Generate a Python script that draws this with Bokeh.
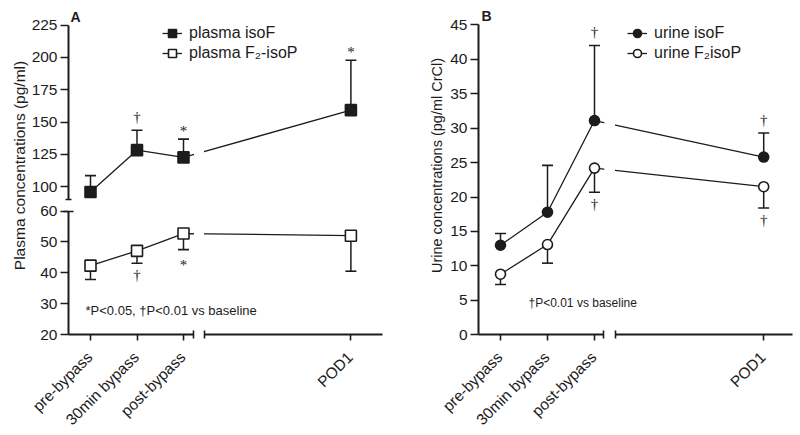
import math
from bokeh.plotting import figure
from bokeh.models import (ColumnDataSource, Range1d, LinearAxis, FixedTicker, Whisker, TeeHead,
                          BoxAnnotation, Label, LabelSet, Legend, LegendItem)
from bokeh.layouts import row
from bokeh.embed import file_html
from bokeh.resources import INLINE
from bokeh.core.properties import value

# ---------------- data ----------------
time_points = ["pre-bypass", "30min bypass", "post-bypass", "POD1"]

plasma_isoF = [96.0, 128.3, 122.7, 159.2]
plasma_isoF_sem = [12.6, 15.4, 14.1, 38.6]
plasma_isoF_sig = ["", "\u2020", "*", "*"]

plasma_F2 = [42.3, 47.1, 52.7, 52.0]
plasma_F2_sem = [4.5, 4.0, 5.2, 11.5]
plasma_F2_sig = ["", "\u2020", "*", ""]

urine_isoF = [13.0, 17.8, 31.1, 25.8]
urine_isoF_sem = [1.7, 6.8, 10.9, 3.5]
urine_isoF_sig = ["", "", "\u2020", "\u2020"]

urine_F2 = [8.8, 13.1, 24.2, 21.5]
urine_F2_sem = [1.5, 2.7, 3.5, 3.1]
urine_F2_sig = ["", "", "\u2020", "\u2020"]

plasma_upper_ticks = [100, 125, 150, 175, 200, 225]
plasma_lower_ticks = [20, 30, 40, 50, 60]
urine_ticks = [0, 5, 10, 15, 20, 25, 30, 35, 40, 45]

# ---------------- layout ----------------
SLOT = [0, 1, 2, 5.6]          # x slot for each time point (axis broken after slot 2)
INK = "#1c1c1c"
FONT = "Liberation Sans"
FIG_H = 435
TICK_FONT = "15.5px"


def lin(v1, p1, v2, p2):
    """pixel -> data value, linear through two anchors"""
    k = (p2 - p1) / (v2 - v1)
    return lambda p: v1 + (p - p1) / k


def style_axis(ax, tick_out, standoff):
    ax.axis_line_width = 2
    ax.axis_line_color = INK
    ax.major_tick_line_width = 1.6
    ax.major_tick_line_color = INK
    ax.major_tick_in = 0
    ax.major_tick_out = tick_out
    ax.minor_tick_line_width = 1.6
    ax.minor_tick_line_color = INK
    ax.minor_tick_in = 4
    ax.minor_tick_out = 4
    ax.major_label_text_font = FONT
    ax.major_label_text_font_size = TICK_FONT
    ax.major_label_text_color = INK
    ax.major_label_standoff = standoff


def sig_offsets(sig, above):
    # annotation offsets: positive = upwards on screen
    out = []
    for s in sig:
        if s == "*":
            out.append(8 if above else -15)
        else:
            out.append(13 if above else -12)
    return out


def add_series(p, vals, sem, sig, up, marker, filled, range_name="default"):
    ends = [v + e if up else v - e for v, e in zip(vals, sem)]
    src = ColumnDataSource(dict(x=SLOT, y=vals, end=ends, sig=sig, off=sig_offsets(sig, up)))
    head = TeeHead(size=11, line_width=1.6, line_color=INK)
    wk = Whisker(source=src, base="x", lower="y" if up else "end", upper="end" if up else "y",
                 dimension="height", upper_head=head if up else None,
                 lower_head=None if up else head, line_width=1.5, line_color=INK,
                 level="underlay", y_range_name=range_name)
    p.add_layout(wk)
    ln = p.line("x", "y", source=src, line_width=1.3, line_color=INK, y_range_name=range_name)
    sc = p.scatter("x", "y", source=src, marker=marker, size=11 if marker == "square" else 10,
                   fill_color=INK if filled else "white", line_color=INK, line_width=1.6,
                   y_range_name=range_name)
    p.add_layout(LabelSet(x="x", y="end", text="sig", source=src, y_offset="off",
                          text_align="center", text_baseline="middle", text_font=FONT,
                          text_font_size="15px", text_color=INK, y_range_name=range_name))
    return ln, sc


def x_axes(p, xf, y_loc, x_start, brk_l, brk_r, x_end):
    bl, br = xf(brk_l), xf(brk_r)
    axl = LinearAxis(bounds=(x_start, bl),
                     ticker=FixedTicker(ticks=SLOT[:3], minor_ticks=[bl - 1e-6]),
                     major_label_overrides={s: "" for s in SLOT[:3]},
                     fixed_location=y_loc)
    axr = LinearAxis(bounds=(br, x_end),
                     ticker=FixedTicker(ticks=SLOT[3:], minor_ticks=[br + 1e-6]),
                     major_label_overrides={s: "" for s in SLOT[3:]},
                     fixed_location=y_loc)
    for a in (axl, axr):
        style_axis(a, 6, 5)
        p.add_layout(a, "below")
    # category labels, rotated 45 degrees and ending just under each tick
    lab = ColumnDataSource(dict(x=SLOT, y=[y_loc] * len(SLOT), t=time_points))
    p.text("x", "y", text="t", source=lab, angle=math.pi / 4, text_align="right",
           text_baseline="middle", x_offset=-1, y_offset=20, text_font=value(FONT),
           text_font_size=TICK_FONT, text_color=INK)


def make_legend(p, items, loc):
    leg = Legend(items=[LegendItem(label=l, renderers=list(r)) for l, r in items],
                 location=loc, border_line_color=None, background_fill_alpha=0,
                 padding=0, spacing=0, margin=0, label_standoff=7, glyph_width=20,
                 glyph_height=20, label_height=20, label_text_font=FONT,
                 label_text_font_size="16px", label_text_color=INK)
    p.add_layout(leg)


def label(p, x, y, text, size, **kw):
    p.add_layout(Label(x=x, y=y, text=text, text_font=FONT, text_font_size=size,
                       text_color=INK, **kw))


def base_fig(xf, yf, left, width):
    p = figure(width=width, height=FIG_H, title=None,
               x_range=Range1d(xf(left), xf(left + width)),
               y_range=Range1d(yf(FIG_H), yf(0)),
               x_axis_location=None, y_axis_location=None, toolbar_location=None,
               output_backend="svg", min_border=0,
               min_border_left=0, min_border_right=0, min_border_top=0, min_border_bottom=0)
    p.grid.visible = False
    p.outline_line_color = None
    p.background_fill_color = "white"
    p.border_fill_color = "white"
    return p


# ================= Panel A =================
A_LEFT, A_W = 0, 400
AX_X, AX_Y, AX_END = 68, 334, 382       # y-axis x, x-axis y, x-axis end (pixels)
xA = lin(0, 90, 2, 183)
yA_up = lin(100, 186.3, 225, 24.5)
yA_lo = lin(20, 334, 60, 210.5)

pA = base_fig(xA, yA_up, A_LEFT, A_W)
pA.extra_y_ranges = {"lower": Range1d(yA_lo(FIG_H), yA_lo(0))}

ax = LinearAxis(bounds=(90, 225), ticker=FixedTicker(ticks=plasma_upper_ticks, minor_ticks=[90.001]),
                fixed_location=xA(AX_X))
style_axis(ax, 8, 3)
ax.minor_tick_in = 3
ax.minor_tick_out = 3
pA.add_layout(ax, "left")
ax2 = LinearAxis(y_range_name="lower", bounds=(20, 60),
                 ticker=FixedTicker(ticks=plasma_lower_ticks, minor_ticks=[59.999]),
                 fixed_location=xA(AX_X))
style_axis(ax2, 8, 3)
ax2.minor_tick_in = 5
ax2.minor_tick_out = 5
pA.add_layout(ax2, "left")
x_axes(pA, xA, yA_up(AX_Y), xA(AX_X), 193, 204, xA(AX_END))

rA1 = add_series(pA, plasma_isoF, plasma_isoF_sem, plasma_isoF_sig, True, "square", True)
rA2 = add_series(pA, plasma_F2, plasma_F2_sem, plasma_F2_sig, False, "square", False, "lower")

pA.add_layout(BoxAnnotation(left=xA(193.5), right=xA(203.5), bottom=yA_up(295), top=yA_up(66),
                            fill_color="white", fill_alpha=1, line_color=None, level="overlay"))
make_legend(pA, [("plasma isoF", rA1), ("plasma F\u2082-isoP", rA2)], (162 - A_LEFT, FIG_H - 63))
label(pA, xA(85), yA_up(310), "*P<0.05, \u2020P<0.01 vs baseline", "13px",
      text_baseline="middle", text_align="left")
label(pA, xA(19), yA_up(165), "Plasma concentrations (pg/ml)", "15.5px", angle=math.pi / 2,
      text_align="center", text_baseline="middle")
label(pA, xA(75), yA_up(16.5), "A", "14px", text_font_style="bold", text_align="center",
      text_baseline="middle")

# ================= Panel B =================
B_LEFT, B_W = 400, 400
BX_X, BX_Y, BX_END = 478, 334, 792
xB = lin(0, 500, 2, 594)
yB = lin(0, 334.3, 45, 24.3)

pB = base_fig(xB, yB, B_LEFT, B_W)

axB = LinearAxis(bounds=(0, 45), ticker=FixedTicker(ticks=urine_ticks),
                 fixed_location=xB(BX_X))
style_axis(axB, 8, 3)
pB.add_layout(axB, "left")
x_axes(pB, xB, yB(BX_Y), xB(BX_X), 603.3, 615, xB(BX_END))

rB1 = add_series(pB, urine_isoF, urine_isoF_sem, urine_isoF_sig, True, "circle", True)
rB2 = add_series(pB, urine_F2, urine_F2_sem, urine_F2_sig, False, "circle", False)

pB.add_layout(BoxAnnotation(left=xB(603.8), right=xB(614.5), bottom=yB(290), top=yB(70),
                            fill_color="white", fill_alpha=1, line_color=None, level="overlay"))
make_legend(pB, [("urine isoF", rB1), ("urine F\u2082isoP", rB2)], (627 - B_LEFT, FIG_H - 63))
label(pB, xB(528), yB(302), "\u2020P<0.01 vs baseline", "12px",
      text_baseline="middle", text_align="left")
label(pB, xB(436), yB(165), "Urine concentrations (pg/ml CrCl)", "14.5px", angle=math.pi / 2,
      text_align="center", text_baseline="middle")
label(pB, xB(486), yB(15.5), "B", "14px", text_font_style="bold", text_align="center",
      text_baseline="middle")

layout = row(pA, pB)
open("out.html", "w").write(file_html(layout, INLINE))
